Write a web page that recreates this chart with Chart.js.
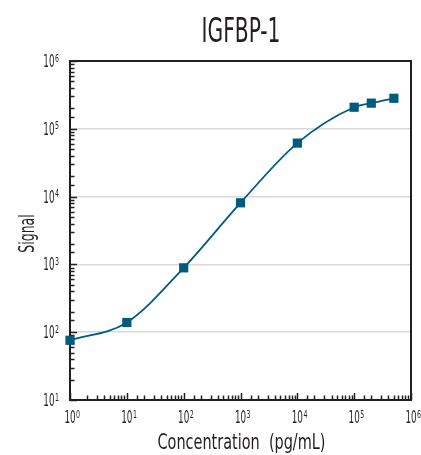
<!DOCTYPE html>
<html>
<head>
<meta charset="utf-8">
<title>IGFBP-1</title>
<script src="https://cdn.jsdelivr.net/npm/chart.js@4.4.1/dist/chart.umd.min.js"></script>
<style>
    html, body {
        margin: 0;
        padding: 0;
        background: #ffffff;
    }
    #box {
        width: 421px;
        height: 455px;
    }
</style>
</head>
<body>
<div id="box">
    <canvas id="myChart" width="421" height="455"></canvas>
</div>
<script>
// standard curve values
const concentracao = [1, 10, 100, 1000, 10000, 100000, 200000, 500000]
const sinal = [76, 139, 890, 8100, 61500, 208000, 239000, 282000]
const decadasX = [1, 10, 100, 1000, 10000, 100000, 1000000]
const decadasY = [10, 100, 1000, 10000, 100000, 1000000]

const titulo = 'IGFBP-1'
const tituloX = 'Concentration  (pg/mL)'
const tituloY = 'Signal'

const fonte = '"DejaVu Sans Condensed", "DejaVu Sans", sans-serif'
const escuro = '#231f20'
const azul = '#005b7f'

function ehDecada(v) {
    var e = Math.log10(v)
    return Math.abs(e - Math.round(e)) < 1e-9
}

// narrow text: the font is squeezed horizontally by sx
function texto(ctx, str, x, y, size, sx, align, ang) {
    ctx.save()
    ctx.font = size + 'px ' + fonte
    ctx.textAlign = align
    ctx.textBaseline = 'alphabetic'
    ctx.translate(x, y)
    if (ang) ctx.rotate(ang)
    ctx.scale(sx, 1)
    ctx.fillText(str, 0, 0)
    ctx.restore()
}

function largura(ctx, str, size, sx) {
    ctx.save()
    ctx.font = size + 'px ' + fonte
    var w = ctx.measureText(str).width * sx
    ctx.restore()
    return w
}

// "10" with a small raised exponent
function potencia(ctx, v, x, y, lado) {
    var e = String(Math.round(Math.log10(v)))
    var wBase = largura(ctx, '10', 17.5, 0.56)
    var wExp = largura(ctx, e, 10, 0.7)
    var inicio = lado === 'direita' ? x - wBase - wExp - 0.5 : x - wBase / 2
    texto(ctx, '10', inicio, y, 17.5, 0.56, 'left')
    texto(ctx, e, inicio + wBase + 0.5, y - 5.5, 10, 0.7, 'left')
}

// title, texts, box and inward tick marks
const desenhos = {
    id: 'desenhos',
    beforeDatasetsDraw(chart) {
        var ctx = chart.ctx
        var area = chart.chartArea
        var x = chart.scales.x
        var y = chart.scales.y

        ctx.save()
        ctx.strokeStyle = escuro
        ctx.lineWidth = 1.5

        y.ticks.forEach(function (t) {
            var py = Math.round(y.getPixelForValue(t.value)) + 0.5
            var len = ehDecada(t.value) ? 7 : 4.5
            ctx.beginPath()
            ctx.moveTo(area.left, py)
            ctx.lineTo(area.left + len, py)
            ctx.stroke()
        })
        x.ticks.forEach(function (t) {
            var px = Math.round(x.getPixelForValue(t.value)) + 0.5
            var len = ehDecada(t.value) ? 7 : 4.5
            ctx.beginPath()
            ctx.moveTo(px, area.bottom)
            ctx.lineTo(px, area.bottom - len)
            ctx.stroke()
        })

        ctx.lineWidth = 2
        ctx.strokeRect(area.left, area.top, area.right - area.left, area.bottom - area.top)
        ctx.restore()
    },
    afterDraw(chart) {
        var ctx = chart.ctx
        var area = chart.chartArea
        var x = chart.scales.x
        var y = chart.scales.y
        var meio = (area.left + area.right) / 2

        ctx.save()
        ctx.fillStyle = escuro

        texto(ctx, titulo, meio + 0.5, 42, 34, 0.66, 'center')
        texto(ctx, tituloX, meio + 1, 449, 22, 0.73, 'center')
        texto(ctx, tituloY, 34, (area.top + area.bottom) / 2 + 3, 21, 0.66, 'center', -Math.PI / 2)

        decadasX.forEach(function (v) {
            potencia(ctx, v, x.getPixelForValue(v), 423)
        })
        decadasY.forEach(function (v) {
            potencia(ctx, v, area.left - 11, y.getPixelForValue(v) + 6, 'direita')
        })
        ctx.restore()
    }
}

const data = {
    datasets: [{
        label: titulo,
        data: concentracao.map(function (c, i) { return { x: c, y: sinal[i] } }),
        borderColor: azul,
        backgroundColor: azul,
        borderWidth: 1.8,
        cubicInterpolationMode: 'monotone',
        pointStyle: 'rect',
        pointRadius: 6.5,
        pointBorderWidth: 0,
        clip: false
    }]
}

const config = {
    type: 'line',
    data: data,
    plugins: [desenhos],
    options: {
        responsive: false,
        animation: false,
        layout: {
            padding: { top: 61, right: 10, left: 0, bottom: 0 }
        },
        plugins: {
            legend: { display: false },
            tooltip: { enabled: false }
        },
        scales: {
            x: {
                type: 'logarithmic',
                min: decadasX[0],
                max: decadasX[decadasX.length - 1],
                afterFit: function (s) { s.height = 55 },
                border: { display: false },
                grid: { display: false, drawTicks: false },
                ticks: { display: false, autoSkip: false }
            },
            y: {
                type: 'logarithmic',
                min: decadasY[0],
                max: decadasY[decadasY.length - 1],
                afterFit: function (s) { s.width = 70 },
                border: { display: false },
                grid: {
                    drawTicks: false,
                    lineWidth: 1.5,
                    color: function (c) {
                        var v = c.tick && c.tick.value
                        if (v && ehDecada(v) && v > decadasY[0] && v < decadasY[decadasY.length - 1]) return '#d9d9d9'
                        return 'rgba(0,0,0,0)'
                    }
                },
                ticks: { display: false, autoSkip: false }
            }
        }
    }
}

const myChart = new Chart(
    document.getElementById('myChart'),
    config
)
</script>
</body>
</html>
